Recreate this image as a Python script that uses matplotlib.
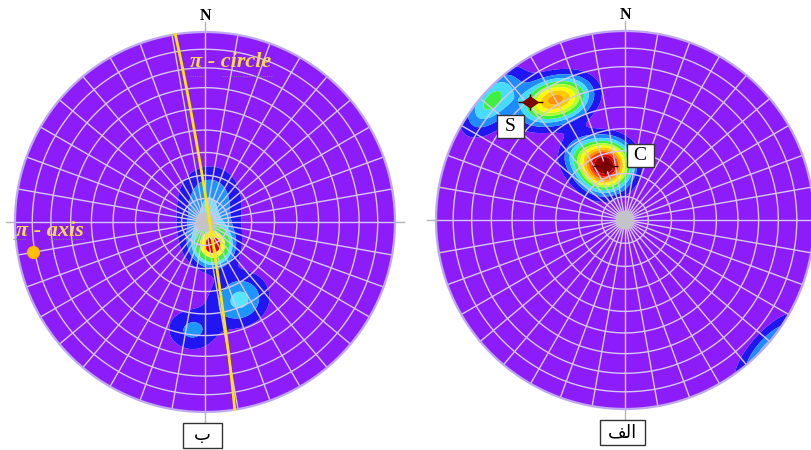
import numpy as np
import matplotlib
matplotlib.use('Agg')
import matplotlib.pyplot as plt
from matplotlib.patches import Circle, Rectangle
from matplotlib.path import Path

# ---------------- data ----------------
# Left net (ب): pole clusters used for density contouring
left_trend = [10, 163, 162, 156, 187]
left_plunge = [78, 85.5, 79, 53, 42]
left_weight = [2.4, 2.4, 7.5, 3.3, 2.2]
left_sigma = [9, 9, 5, 8, 7]
left_levels = [1, 2, 3, 4, 6, 8]
left_colors = ['#8c1cfa', '#2016f2', '#1e96ff', '#5ae6ff', '#40f040', '#ffff00', '#e60000']

# pi-circle (girdle) and pi-axis
girdle_dipdir = 81
girdle_dip = 88
pi_axis_trend = 260
pi_axis_plunge = 9

# Right net (الف): pole clusters
right_trend = [312, 326, 335, 340, 325]
right_plunge = [6, 25, 30, 65, 55]
right_weight = [4.4, 5.5, 5.0, 12.3, 2.5]
right_sigma = [8, 7, 7, 7, 6]
right_levels = [1, 2, 3, 4, 5, 6, 7, 8, 9, 10, 11]
right_colors = ['#8c1cfa', '#2016f2', '#1e8cff', '#46dcff', '#40f040', '#b4ff28',
                '#ffff00', '#ffc800', '#ff9600', '#ff4600', '#dc0000', '#960000']

# S and C maxima
max_names = ['S', 'C']
max_trend = [321, 340]
max_plunge = [21, 65]

# ---------------- helpers ----------------
SQ2 = np.sqrt(2.0)


def proj(trend, plunge):
    t = np.radians(trend)
    c = np.radians(90.0 - np.asarray(plunge, float))
    r = SQ2 * np.sin(c / 2.0)
    return r * np.sin(t), r * np.cos(t)


def density(X, Y, trends, plunges, weights, sigmas):
    r = np.clip(np.hypot(X, Y), 0, 1)
    c = 2 * np.arcsin(r / SQ2)
    az = np.arctan2(X, Y)
    vx, vy, vz = np.sin(c) * np.sin(az), np.sin(c) * np.cos(az), np.cos(c)
    D = np.zeros_like(X)
    for t, p, w, s in zip(trends, plunges, weights, sigmas):
        t, p = np.radians(t), np.radians(p)
        ux, uy, uz = np.cos(p) * np.sin(t), np.cos(p) * np.cos(t), np.sin(p)
        d = np.abs(vx * ux + vy * uy + vz * uz)
        k = 1.0 / np.radians(s) ** 2
        D += w * np.exp(k * (d - 1))
    return D


W, H = 811, 450
fig = plt.figure(figsize=(W / 100, H / 100), dpi=100)
fig.patch.set_facecolor('white')

GRID = '#d6c8ee'
AXGREY = '#b4b4b4'
SERIF = ['Liberation Serif', 'DejaVu Serif']


def make_net(cx, cy, R, trends, plunges, weights, sigmas, levels, colors,
             label, box_w):
    ax = fig.add_axes([0, 0, 1, 1])
    ax.set_xlim(-cx / R, (W - cx) / R)
    ax.set_ylim(-(H - cy) / R, cy / R)
    ax.axis('off')
    ax.patch.set_alpha(0)

    # crosshair axes
    ax.plot([-1.045, 1.045], [0, 0], color=AXGREY, lw=1, zorder=1)
    ax.plot([0, 0], [1.055, -1.06], color=AXGREY, lw=1, zorder=1)

    g = np.linspace(-1.01, 1.01, 500)
    X, Y = np.meshgrid(g, g)
    D = density(X, Y, trends, plunges, weights, sigmas)
    lv = [-1] + list(levels) + [1e4]
    cs = ax.contourf(X, Y, D, levels=lv, colors=colors, zorder=2, antialiased=True)
    clip = Circle((0, 0), 1.0, transform=ax.transData)
    cs.set_clip_path(clip)

    # polar grid (equal-area)
    th = np.linspace(0, 2 * np.pi, 400)
    for pl in range(10, 90, 10):
        rr = SQ2 * np.sin(np.radians(90 - pl) / 2)
        ax.plot(rr * np.cos(th), rr * np.sin(th), color=GRID, lw=1.0, zorder=3)
    for az in range(0, 360, 10):
        a = np.radians(az)
        ax.plot([0, np.sin(a)], [0, np.cos(a)], color=GRID, lw=1.0, zorder=3)
    ax.add_patch(Circle((0, 0), 0.05, color='#c4c4c8', lw=0, zorder=3))
    ax.plot(np.cos(th), np.sin(th), color='#bea8f2', lw=1.6, zorder=4)

    ax.text(0, 1.083, 'N', ha='center', va='center', fontsize=11.5,
            family=SERIF, fontweight='bold', color='black', zorder=6)
    bx, by, bh = -0.013, -1.125, 0.132
    ax.add_patch(Rectangle((bx - box_w / 2, by - bh / 2), box_w, bh, fc='white',
                           ec='#333333', lw=1, zorder=6))
    ax.text(bx, by, label, ha='center', va='center', fontsize=13,
            family=['Liberation Serif', 'DejaVu Sans'], color='black', zorder=7)
    return ax


# ----- left net -----
R_L = 190
axL = make_net(205, 222, R_L, left_trend, left_plunge, left_weight, left_sigma,
               left_levels, left_colors, '\u0628', 0.205)

s = np.radians(girdle_dipdir - 90)
dd = np.radians(girdle_dipdir)
dp = np.radians(girdle_dip)
a = np.linspace(0, np.pi, 300)
E = np.cos(a) * np.sin(s) + np.sin(a) * np.cos(dp) * np.sin(dd)
N = np.cos(a) * np.cos(s) + np.sin(a) * np.cos(dp) * np.cos(dd)
Dn = np.sin(a) * np.sin(dp)
gc_trend = np.degrees(np.arctan2(E, N))
gc_plunge = np.degrees(np.arcsin(np.clip(Dn, -1, 1)))
gx, gy = proj(gc_trend, gc_plunge)
axL.plot(gx, gy, color='#ffe600', lw=2.0, zorder=5)

px, py = proj(pi_axis_trend, pi_axis_plunge)
axL.plot([px], [py], 'o', color='#ffc000', ms=8.5, mec='#ffb000', zorder=6)

TXT = '#f8dc46'
t1 = axL.text(-0.08, 0.815, 'π - circle', fontsize=16, family=SERIF,
              fontweight='bold', style='italic', color=TXT, zorder=6,
              ha='left', va='baseline')
t2 = axL.text(-0.995, -0.075, 'π - axis', fontsize=16, family=SERIF,
              fontweight='bold', style='italic', color=TXT, zorder=6,
              ha='left', va='baseline')
# faint proofing underlines beneath the words
for (x0, x1, y0) in [(-0.08, -0.01, 0.77), (0.09, 0.35, 0.77),
                     (-1.01, -0.94, -0.09), (-0.82, -0.63, -0.09)]:
    axL.plot([x0, x1], [y0, y0], color='#7a7a9a', lw=0.8, ls=(0, (1, 1)), zorder=6)

# ----- right net -----
R_R = 189
axR = make_net(625, 220, R_R, right_trend, right_plunge, right_weight, right_sigma,
               right_levels, right_colors, '\uFED2\uFEDF\uFE8D', 0.238)

diamond = Path([(-1, 0), (0, 0.7), (1, 0), (0, -0.7), (-1, 0)],
               [Path.MOVETO, Path.LINETO, Path.LINETO, Path.LINETO, Path.CLOSEPOLY])
mx, my = proj(max_trend, max_plunge)
axR.plot(mx, my, linestyle='none', marker='_', ms=18, mew=1.0, color='#300000', zorder=6)
axR.plot(mx, my, linestyle='none', marker='|', ms=12, mew=1.0, color='#300000', zorder=6)
axR.plot(mx, my, linestyle='none', marker=diamond, ms=11, color='#7a0000', zorder=7)

offsets = [(-19.5, -24.5), (35, 10.5)]   # label box offsets in pixels
for name, x0, y0, off in zip(max_names, mx, my, offsets):
    cxb, cyb = x0 + off[0] / R_R, y0 + off[1] / R_R
    bw, bh = 27 / R_R, 23 / R_R
    axR.add_patch(Rectangle((cxb - bw / 2, cyb - bh / 2), bw, bh, fc='white',
                            ec='#333333', lw=1, zorder=8))
    axR.text(cxb, cyb, name, ha='center', va='center', fontsize=14,
             family=SERIF, zorder=9)

fig.savefig('out.png', dpi=100, facecolor='white')
